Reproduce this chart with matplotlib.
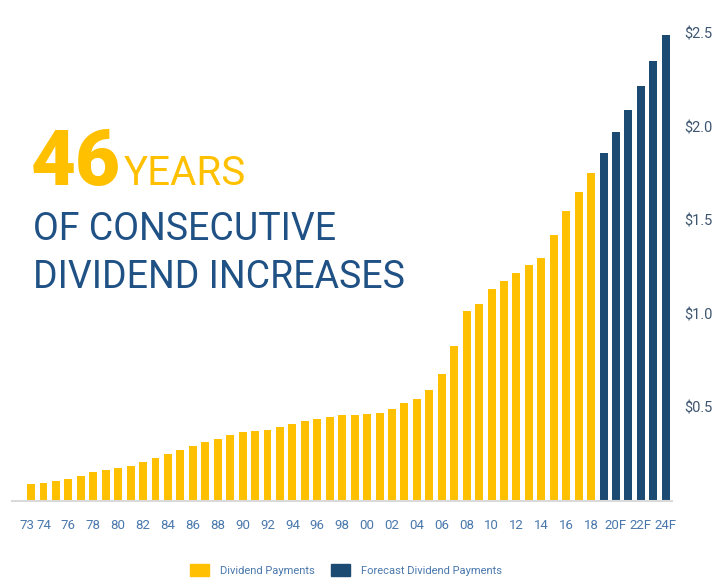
import matplotlib.pyplot as plt
from matplotlib.patches import Patch
from matplotlib.transforms import ScaledTranslation

# Dividend per share
years = ['73', '74', '75', '76', '77', '78', '79', '80', '81', '82', '83', '84', '85',
         '86', '87', '88', '89', '90', '91', '92', '93', '94', '95', '96', '97', '98',
         '99', '00', '01', '02', '03', '04', '05', '06', '07', '08', '09', '10', '11',
         '12', '13', '14', '15', '16', '17', '18']
dividends = [0.089, 0.097, 0.105, 0.118, 0.134, 0.155, 0.166, 0.177, 0.188, 0.210,
             0.232, 0.253, 0.270, 0.293, 0.316, 0.332, 0.355, 0.371, 0.376, 0.380,
             0.393, 0.414, 0.430, 0.439, 0.448, 0.459, 0.462, 0.463, 0.472, 0.490,
             0.526, 0.545, 0.595, 0.677, 0.830, 1.014, 1.055, 1.135, 1.178, 1.217,
             1.260, 1.300, 1.419, 1.550, 1.652, 1.753]

forecast_years = ['19F', '20F', '21F', '22F', '23F', '24F']
forecast = [1.861, 1.973, 2.090, 2.219, 2.353, 2.490]

tick_years = ['73', '74', '76', '78', '80', '82', '84', '86', '88', '90', '92', '94',
              '96', '98', '00', '02', '04', '06', '08', '10', '12', '14', '16', '18',
              '20F', '22F', '24F']
y_ticks = [0.5, 1.0, 1.5, 2.0, 2.5]

yellow = '#FFC000'
navy = '#1B4A72'
label_blue = '#4A78AD'
text_blue = '#1F5185'
font = 'Roboto'

W, H = 719, 584
fig = plt.figure(figsize=(W / 100, H / 100), dpi=100)
ax = fig.add_axes([12 / W, 1 - 501 / H, 660 / W, 481 / H])

all_years = years + forecast_years
x_hist = list(range(len(years)))
x_fc = list(range(len(years), len(all_years)))

ax.bar(x_hist, dividends, width=0.64, color=yellow)
ax.bar(x_fc, forecast, width=0.64, color=navy)

ax.set_xlim(-1.53, 51.5)
ax.set_ylim(0, 2.57)

for s in ['top', 'left', 'right']:
    ax.spines[s].set_visible(False)
ax.spines['bottom'].set_color('#DADADA')
ax.spines['bottom'].set_linewidth(1.5)

ax.set_xticks([all_years.index(t) for t in tick_years])
ax.set_xticklabels(tick_years, fontfamily=font, fontsize=9.5, color=label_blue)
ax.tick_params(axis='x', length=0, pad=13)
# nudge the first label left so 73 and 74 don't collide
lbl = ax.get_xticklabels()[0]
lbl.set_transform(lbl.get_transform() + ScaledTranslation(-4 / 100, 0, fig.dpi_scale_trans))

ax.yaxis.tick_right()
ax.set_yticks(y_ticks)
ax.set_yticklabels([f'${v:.1f}' for v in y_ticks], fontfamily=font, fontsize=10.5,
                   color='#3E5670')
ax.tick_params(axis='y', length=0, pad=9)

# headline
fig.text(31 / W, 1 - 185 / H, '46', fontfamily=font, fontweight='heavy',
         fontsize=56, color=yellow, va='baseline', ha='left')
fig.text(124 / W, 1 - 185 / H, 'YEARS', fontfamily=font, fontsize=29,
         color=yellow, va='baseline', ha='left')
fig.text(33 / W, 1 - 240 / H, 'OF CONSECUTIVE', fontfamily=font, fontsize=27,
         color=text_blue, va='baseline', ha='left')
fig.text(33 / W, 1 - 288 / H, 'DIVIDEND INCREASES', fontfamily=font, fontsize=27,
         color=text_blue, va='baseline', ha='left')

handles = [Patch(color=yellow, label='Dividend Payments'),
           Patch(color=navy, label='Forecast Dividend Payments')]
leg = fig.legend(handles=handles, loc='center', bbox_to_anchor=(346 / W, 1 - 570 / H),
                 ncol=2, frameon=False, prop={'family': font, 'size': 8},
                 handlelength=1.7, handleheight=1.25, handletextpad=1.0,
                 columnspacing=1.5)
for t in leg.get_texts():
    t.set_color(label_blue)

fig.savefig('out.png', dpi=100)
